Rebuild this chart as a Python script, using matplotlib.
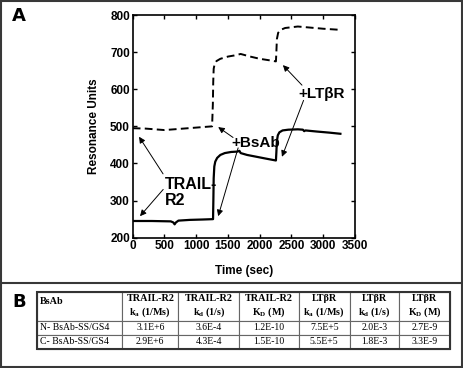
import matplotlib
matplotlib.use("Agg")
import matplotlib.pyplot as plt
from matplotlib.patches import Rectangle
from matplotlib.lines import Line2D
import numpy as np

plt.rcParams['font.family'] = ['Liberation Sans', 'DejaVu Sans']
plt.rcParams['mathtext.fontset'] = 'custom'
plt.rcParams['mathtext.rm'] = 'Liberation Serif'
plt.rcParams['mathtext.bf'] = 'Liberation Serif:bold'
plt.rcParams['mathtext.it'] = 'Liberation Serif:italic'

# ---- Panel A data (time in sec, resonance units) ----
solid_t = [0, 300, 600, 640, 660, 680, 720, 900, 1100, 1265, 1270, 1275, 1285, 1300,
           1330, 1380, 1450, 1550, 1650, 1680, 1700, 1800, 1950, 2100, 2255, 2262,
           2270, 2285, 2310, 2360, 2450, 2600, 2680, 2700, 2720, 2900, 3100, 3270]
solid_ru = [245, 245, 244, 241, 236, 241, 246, 248, 249, 250, 300, 360, 392, 405,
            415, 423, 428, 431, 432, 434, 428, 423, 418, 413, 408, 430,
            460, 476, 484, 489, 491, 492, 491, 487, 489, 486, 483, 480]
dashed_t = [0, 200, 500, 800, 1100, 1250, 1262, 1268, 1275, 1290, 1320, 1380, 1500,
            1600, 1700, 1850, 2000, 2150, 2255, 2262, 2270, 2290, 2330, 2400, 2500,
            2600, 2800, 3000, 3270]
dashed_ru = [495, 494, 490, 494, 498, 500, 560, 620, 655, 668, 676, 682, 688,
             691, 695, 688, 682, 678, 675, 700, 735, 752, 760, 765, 767,
             769, 766, 763, 760]

x_ticks = [0, 500, 1000, 1500, 2000, 2500, 3000, 3500]
y_ticks = [200, 300, 400, 500, 600, 700, 800]

# ---- Panel B table ----
col_headers = ["BsAb\n",
               "TRAIL-R2\nk$_\\mathbf{a}$ (1/Ms)",
               "TRAIL-R2\nk$_\\mathbf{d}$ (1/s)",
               "TRAIL-R2\nK$_\\mathbf{D}$ (M)",
               "LTβR\nk$_\\mathbf{a}$ (1/Ms)",
               "LTβR\nk$_\\mathbf{d}$ (1/s)",
               "LTβR\nK$_\\mathbf{D}$ (M)"]
row_names = ["N- BsAb-SS/GS4", "C- BsAb-SS/GS4"]
row_values = [["3.1E+6", "3.6E-4", "1.2E-10", "7.5E+5", "2.0E-3", "2.7E-9"],
              ["2.9E+6", "4.3E-4", "1.5E-10", "5.5E+5", "1.8E-3", "3.3E-9"]]

W, H = 463, 368
fig = plt.figure(figsize=(W / 100, H / 100), dpi=100)

def fx(px):
    return px / W

def fy(py):
    return 1 - py / H

# outer frames
edge = '#383838'
fig.add_artist(Rectangle((fx(1), fy(366.5)), fx(461), (366.5 - 1) / H, transform=fig.transFigure,
                         fill=False, lw=1.5, ec=edge))
fig.add_artist(Line2D([fx(1), fx(462)], [fy(282.5), fy(282.5)], transform=fig.transFigure,
                      lw=1.5, color=edge))

fig.text(fx(12), fy(16), "A", fontsize=13, fontweight='bold', ha='left', va='center',
         family=['Liberation Sans Narrow', 'DejaVu Sans'])
fig.text(fx(12), fy(302), "B", fontsize=13, fontweight='bold', ha='left', va='center',
         family=['Liberation Sans Narrow', 'DejaVu Sans'])

# ---- Panel A ----
ax = fig.add_axes([fx(132.7), fy(237.7), fx(355) - fx(132.7), (237.7 - 15) / H])
ax.plot(solid_t, solid_ru, color='black', lw=1.6)
ax.plot(dashed_t, dashed_ru, color='black', lw=1.4, dashes=(4, 2.2))
ax.set_xlim(0, 3500)
ax.set_ylim(200, 800)
ax.set_xticks(x_ticks)
ax.set_yticks(y_ticks)
ax.tick_params(direction='in', length=3, width=1, top=True, right=True,
               labelsize=8.5, pad=2)
for lab in ax.get_xticklabels() + ax.get_yticklabels():
    lab.set_fontweight('bold')
for s in ax.spines.values():
    s.set_linewidth(1.2)
ax.set_xlabel("Time (sec)", fontsize=8.5, fontweight='bold', labelpad=9)
ax.set_ylabel("Resonance Units", fontsize=8.5, fontweight='bold', labelpad=7)

ak = dict(arrowstyle='-|>', color='black', lw=0.7, mutation_scale=9, shrinkA=0, shrinkB=0)
ax.text(500, 322, "TRAIL-\nR2", fontsize=11.5, fontweight='bold', ha='left', va='center',
        linespacing=1.05)
ax.annotate("", xy=(100, 472), xytext=(478, 372), arrowprops=ak)
ax.annotate("", xy=(115, 258), xytext=(480, 330), arrowprops=ak)

ax.text(1930, 455, "+BsAb", fontsize=11, fontweight='bold', ha='center', va='center')
ax.annotate("", xy=(1346, 498), xytext=(1580, 470), arrowprops=ak)
ax.annotate("", xy=(1346, 258), xytext=(1660, 442), arrowprops=ak)

ax.text(2980, 587, "+LTβR", fontsize=11, fontweight='bold', ha='center', va='center')
ax.annotate("", xy=(2365, 665), xytext=(2665, 611), arrowprops=ak)
ax.annotate("", xy=(2350, 418), xytext=(2690, 570), arrowprops=ak)

# ---- Panel B table ----
tax = fig.add_axes([fx(37), fy(349), fx(450) - fx(37), (349 - 292) / H])
tax.axis('off')
cell_text = [col_headers] + [[n] + v for n, v in zip(row_names, row_values)]
col_px = [85, 56, 61, 59, 51, 49, 51]
col_w = [c / sum(col_px) for c in col_px]
tbl = tax.table(cellText=cell_text, colWidths=col_w, bbox=[0, 0, 1, 1], cellLoc='center')
tbl.auto_set_font_size(False)
row_h = [29 / 57, 14 / 57, 14 / 57]
for (r, c), cell in tbl.get_celld().items():
    cell.set_height(row_h[r])
    cell.set_edgecolor('#666666')
    cell.set_linewidth(0.8)
    t = cell.get_text()
    t.set_fontfamily('Liberation Serif')
    t.set_fontsize(7.3 if r == 0 else 7)
    if r == 0:
        t.set_fontweight('bold')
        t.set_linespacing(1.25)
    if c == 0:
        t.set_ha('left')
        cell.PAD = 0.03
tax.add_patch(Rectangle((0, 0), 1, 1, transform=tax.transAxes, fill=False, lw=1.5,
                        ec='#333333', zorder=5, clip_on=False))

fig.savefig("out.png", dpi=100)
